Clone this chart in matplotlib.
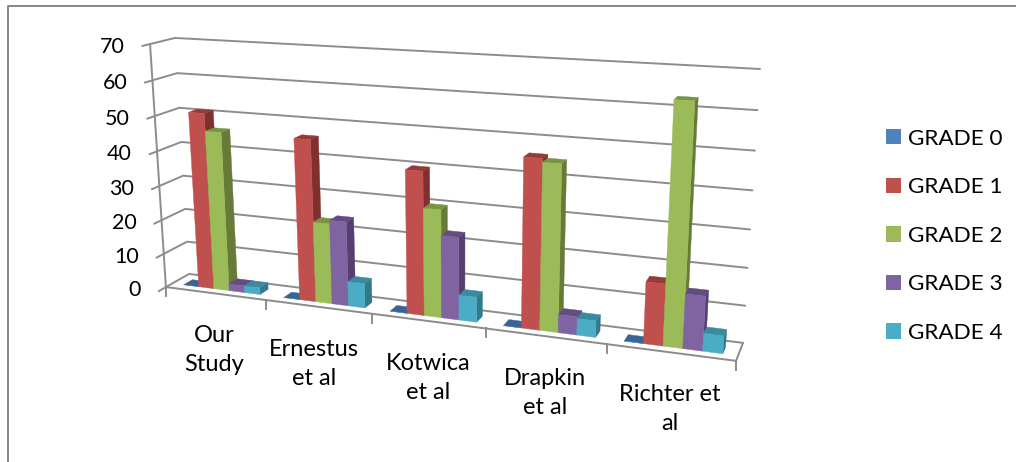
# -*- coding: utf-8 -*-
import numpy as np
import matplotlib
matplotlib.use("Agg")
import matplotlib.pyplot as plt
from matplotlib.patches import Patch, Polygon

plt.rcParams['font.family'] = ['Lato', 'DejaVu Sans']

studies = ["Our\nStudy", "Ernestus\net al", "Kotwica\net al", "Drapkin\net al", "Richter et\nal"]
series_names = ["GRADE 0", "GRADE 1", "GRADE 2", "GRADE 3", "GRADE 4"]
grade0 = [0, 0, 0, 0, 0]
grade1 = [51, 46, 40, 46, 16.5]
grade2 = [46, 23, 30, 45, 63]
grade3 = [2, 24, 23, 5, 14.5]
grade4 = [2, 7, 7, 4.5, 4.7]
yticks = [0, 10, 20, 30, 40, 50, 60, 70]

front_colors = ["#4F81BD", "#C0504D", "#9BBB59", "#8064A2", "#4BACC6"]
top_colors = ["#3A6496", "#963A38", "#7A9446", "#644C82", "#3A8BA0"]
side_colors = ["#2F5080", "#7F2F2D", "#667B37", "#553F6F", "#317A8C"]
GRID = "#8C8C8C"

# camera for the 3d box: (across, value, depth) -> pixel, fitted to the box corners
corners = [(0, 0, 0, 166, 287), (0, 70, 0, 150, 44), (0, 0, 1, 189, 274), (0, 70, 1, 175, 38),
           (1, 0, 1, 743, 342.7), (1, 70, 1, 760, 69), (1, 0, 0, 736, 361)]
rows = []
for a, v, d, px, py in corners:
    p = [a, v, d, 1]
    rows.append(p + [0, 0, 0, 0] + [-px * c for c in p])
    rows.append([0, 0, 0, 0] + p + [-py * c for c in p])
cam = np.linalg.svd(np.array(rows, dtype=float))[2][-1].reshape(3, 4)


def project(a, v, d):
    x, y, w = cam @ np.array([a, v, d, 1.0])
    return x / w, y / w


def line(ax, pts, lw=1.4):
    xs, ys = zip(*[project(*p) for p in pts])
    ax.plot(xs, ys, color=GRID, lw=lw, solid_capstyle='round', zorder=1)


def face(ax, pts, color):
    ax.add_patch(Polygon([project(*p) for p in pts], closed=True, fc=color, ec=color, lw=0.3, zorder=2))


def bar3d(ax, a0, a1, v, d0, d1, i):
    # only the faces the camera sees: top, right side, front
    face(ax, [(a1, 0, d0), (a1, v, d0), (a1, v, d1), (a1, 0, d1)], side_colors[i])
    face(ax, [(a0, v, d0), (a1, v, d0), (a1, v, d1), (a0, v, d1)], top_colors[i])
    face(ax, [(a0, 0, d0), (a1, 0, d0), (a1, v, d0), (a0, v, d0)], front_colors[i])


fig = plt.figure(figsize=(10.16, 4.62), dpi=100)
ax = fig.add_axes([0, 0, 1, 1])
ax.set_xlim(0, 1016)
ax.set_ylim(462, 0)
ax.axis('off')

# chart frame
ax.plot([8, 8, 1016], [462, 5.5, 5.5], color="#888888", lw=1.4, zorder=1)

# walls, floor and axes
for v in yticks:
    line(ax, [(0, v, -0.3), (0, v, 0), (0, v, 1), (1, v, 1)])
    x, y = project(0, v, 0)
    ax.text(x - 25, y + 3, str(v), ha='right', va='center', fontsize=15.5, color='black')
line(ax, [(0, 0, 0), (0, 70, 0)])
line(ax, [(0, 0, 0), (1, 0, 0), (1, 0, 1)])

n_cat = len(studies)
for k in range(n_cat + 1):
    x, y = project(k / n_cat, 0, 0)
    ax.plot([x, x], [y, y + 9], color=GRID, lw=1.4, zorder=1)

# bars, painted left to right so each one hides the side of the previous
all_series = [grade0, grade1, grade2, grade3, grade4]
slot = 1 / n_cat / 6.5
D0, D1 = 0.28, 0.66
for c in range(n_cat):
    start = c / n_cat + 0.75 * slot
    for s, values in enumerate(all_series):
        bar3d(ax, start + s * slot, start + (s + 1) * slot, values[c], D0, D1, s)

# category labels under the floor edge
label_dx = [-1, -4, 0, 0, 0]
for c, name in enumerate(studies):
    x, y = project((c + 0.5) / n_cat, 0, 0)
    ax.text(x + label_dx[c], y + 57, name, ha='center', va='center', fontsize=17, linespacing=1.47, color='black')

handles = [Patch(fc=col, ec='none') for col in front_colors]
ax.legend(handles, series_names, loc='upper left', bbox_to_anchor=(886 / 1016, 1 - 128.7 / 462), frameon=False,
          fontsize=16.2, borderpad=0, borderaxespad=0, handlelength=0.667, handleheight=0.667,
          handletextpad=0.31, labelspacing=1.27)

fig.savefig("out.png", dpi=100)
